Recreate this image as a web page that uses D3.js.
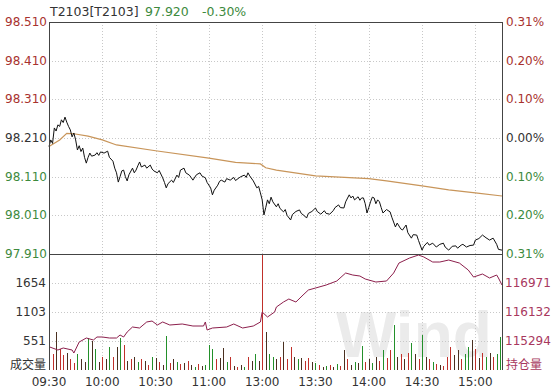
<!DOCTYPE html>
<html>
<head>
<meta charset="utf-8">
<script src="https://cdn.jsdelivr.net/npm/d3@7"></script>
<style>
  html, body { margin: 0; padding: 0; background: #fff; }
  svg { display: block; font-family: "DejaVu Sans", Verdana, sans-serif; }
</style>
</head>
<body>
<svg id="chart" width="552" height="390"></svg>
<script>
// --- data ---
const title = 'T2103[T2103]'
const lastPrice = '97.920'
const lastChange = '-0.30%'
const watermark = 'Wind'

const priceTicks = [98.510, 98.410, 98.310, 98.210, 98.110, 98.010, 97.910]
const pctLabels = ['0.31%', '0.20%', '0.10%', '0.00%', '0.10%', '0.20%', '0.31%']
const volTicks = [551, 1103, 1654]
const volDomain = [0, 2205]
const oiTicks = [115294, 116132, 116971]
const oiDomain = [114456, 117810]
const timeLabels = ['09:30', '10:00', '10:30', '11:00', '13:00', '13:30', '14:00', '14:30', '15:00']

// [time, price]
const priceSeries = [
  ['09:30', 98.188], ['09:31', 98.205], ['09:32', 98.196], ['09:33', 98.236], ['09:34', 98.228],
  ['09:35', 98.244], ['09:36', 98.240], ['09:37', 98.257], ['09:38', 98.250], ['09:39', 98.264],
  ['09:40', 98.251], ['09:41', 98.240], ['09:42', 98.231], ['09:43', 98.213], ['09:44', 98.223],
  ['09:45', 98.205], ['09:46', 98.179], ['09:47', 98.190], ['09:48', 98.175], ['09:49', 98.184],
  ['09:50', 98.160], ['09:51', 98.145], ['09:52', 98.160], ['09:53', 98.171], ['09:54', 98.163],
  ['09:56', 98.166], ['09:57', 98.172], ['09:58', 98.165], ['09:59', 98.174], ['10:01', 98.171],
  ['10:03', 98.176], ['10:04', 98.160], ['10:06', 98.150], ['10:07', 98.132], ['10:08', 98.120],
  ['10:09', 98.096], ['10:10', 98.110], ['10:11', 98.125], ['10:12', 98.127], ['10:13', 98.110],
  ['10:14', 98.099], ['10:15', 98.115], ['10:17', 98.132], ['10:18', 98.120], ['10:19', 98.127],
  ['10:20', 98.138], ['10:21', 98.148], ['10:22', 98.135], ['10:24', 98.140], ['10:25', 98.132],
  ['10:27', 98.140], ['10:28', 98.130], ['10:29', 98.125], ['10:31', 98.120], ['10:32', 98.126],
  ['10:34', 98.107], ['10:35', 98.095], ['10:36', 98.081], ['10:37', 98.092], ['10:39', 98.101],
  ['10:40', 98.095], ['10:42', 98.114], ['10:43', 98.108], ['10:44', 98.127], ['10:46', 98.132],
  ['10:47', 98.120], ['10:49', 98.114], ['10:50', 98.108], ['10:51', 98.101], ['10:53', 98.115],
  ['10:55', 98.120], ['10:56', 98.112], ['10:58', 98.107], ['10:59', 98.095], ['11:01', 98.081],
  ['11:02', 98.063], ['11:03', 98.075], ['11:05', 98.088], ['11:06', 98.098], ['11:07', 98.101],
  ['11:09', 98.096], ['11:10', 98.105], ['11:12', 98.101], ['11:14', 98.108], ['11:15', 98.100],
  ['11:17', 98.107], ['11:18', 98.110], ['11:20', 98.114], ['11:21', 98.108], ['11:22', 98.120],
  ['11:23', 98.112], ['11:25', 98.099], ['11:27', 98.081], ['11:28', 98.085], ['11:29', 98.068],
  ['11:30', 98.050], ['13:01', 98.011], ['13:02', 98.030], ['13:03', 98.050], ['13:04', 98.040],
  ['13:05', 98.057], ['13:06', 98.045], ['13:08', 98.032], ['13:09', 98.040], ['13:10', 98.028],
  ['13:12', 98.019], ['13:13', 98.025], ['13:14', 98.010], ['13:16', 97.998], ['13:17', 98.012],
  ['13:19', 98.020], ['13:21', 98.024], ['13:22', 98.015], ['13:24', 98.008], ['13:25', 98.003],
  ['13:26', 98.015], ['13:28', 98.020], ['13:30', 98.029], ['13:31', 98.020], ['13:33', 98.013],
  ['13:35', 98.022], ['13:36', 98.015], ['13:38', 98.013], ['13:40', 98.022], ['13:41', 98.030],
  ['13:43', 98.037], ['13:44', 98.030], ['13:46', 98.029], ['13:47', 98.045], ['13:49', 98.063],
  ['13:50', 98.055], ['13:51', 98.060], ['13:52', 98.050], ['13:54', 98.058], ['13:55', 98.049],
  ['13:56', 98.055], ['13:57', 98.055], ['13:58', 98.040], ['13:59', 98.016], ['14:00', 98.030],
  ['14:01', 98.045], ['14:02', 98.057], ['14:03', 98.055], ['14:04', 98.040], ['14:05', 98.050],
  ['14:06', 98.045], ['14:07', 98.030], ['14:08', 98.016], ['14:10', 98.025], ['14:12', 98.019],
  ['14:13', 98.005], ['14:15', 97.980], ['14:16', 97.990], ['14:18', 97.975], ['14:19', 97.972],
  ['14:21', 97.985], ['14:22', 97.965], ['14:24', 97.951], ['14:25', 97.960], ['14:27', 97.959],
  ['14:28', 97.945], ['14:30', 97.920], ['14:31', 97.930], ['14:33', 97.940], ['14:34', 97.933],
  ['14:36', 97.938], ['14:38', 97.928], ['14:40', 97.935], ['14:42', 97.938], ['14:43', 97.928],
  ['14:45', 97.920], ['14:47', 97.930], ['14:49', 97.931], ['14:50', 97.925], ['14:52', 97.933],
  ['14:53', 97.935], ['14:55', 97.928], ['14:57', 97.932], ['14:59', 97.933], ['15:00', 97.946],
  ['15:02', 97.950], ['15:04', 97.959], ['15:06', 97.952], ['15:08', 97.946], ['15:10', 97.951],
  ['15:12', 97.935], ['15:13', 97.922], ['15:15', 97.920]
]

// [time, average price]
const avgSeries = [
  ['09:30', 98.188], ['09:36', 98.205], ['09:40', 98.222], ['09:44', 98.221], ['09:52', 98.215],
  ['10:00', 98.205], ['10:08', 98.192], ['10:30', 98.177], ['11:00', 98.158], ['11:15', 98.147],
  ['11:29', 98.143], ['13:02', 98.133], ['13:08', 98.127], ['13:30', 98.112], ['14:00', 98.105],
  ['14:10', 98.099], ['14:30', 98.086], ['14:45', 98.076], ['15:00', 98.068], ['15:15', 98.060]
]

// [time, open interest]
const oiSeries = [
  ['09:30', 115129], ['09:35', 115034], ['09:38', 115092], ['09:43', 115034], ['09:44', 114947],
  ['09:47', 115265], ['09:51', 115381], ['09:55', 115323], ['09:57', 115410], ['10:00', 115410],
  ['10:04', 115381], ['10:08', 115381], ['10:10', 115468], ['10:12', 115410], ['10:14', 115554],
  ['10:17', 115699], ['10:21', 115670], ['10:25', 115844], ['10:28', 115872], ['10:31', 115757],
  ['10:34', 115844], ['10:38', 115757], ['10:45', 115786], ['10:51', 115728], ['10:57', 115728],
  ['10:58', 115844], ['10:59', 115612], ['11:02', 115670], ['11:10', 115699], ['11:14', 115786],
  ['11:19', 115670], ['11:25', 115728], ['11:29', 115844], ['13:00', 116133], ['13:03', 115988],
  ['13:07', 116133], ['13:08', 116277], ['13:12', 116422], ['13:15', 116508], ['13:19', 116422],
  ['13:23', 116624], ['13:26', 116769], ['13:30', 116826], ['13:36', 116913], ['13:42', 117029],
  ['13:47', 117260], ['13:51', 117202], ['13:55', 117173], ['13:58', 117087], ['14:04', 117000],
  ['14:10', 117029], ['14:14', 117260], ['14:17', 117549], ['14:23', 117694], ['14:28', 117780],
  ['14:31', 117723], ['14:36', 117578], ['14:40', 117578], ['14:45', 117636], ['14:51', 117549],
  ['14:56', 117347], ['14:59', 117144], ['15:04', 117231], ['15:08', 117116], ['15:12', 117202],
  ['15:13', 117116], ['15:15', 116913]
]

// volume per 2-minute slot from the open, with bar colour code (r up, g down, k flat)
const volumes = [
  1100, 300, 720, 400, 280, 330, 200, 130, 300, 200, 150, 600, 560, 400, 150, 250,
  200, 430, 250, 430, 600, 470, 180, 200, 250, 150, 200, 180, 100, 250, 230, 150,
  100, 650, 130, 200, 150, 120, 140, 170, 90, 60, 120, 80, 100, 480, 400, 200,
  230, 410, 150, 250, 80, 60, 100, 50, 250, 180, 300, 180, 2205, 720, 300, 250,
  200, 250, 530, 200, 440, 250, 200, 220, 180, 220, 150, 130, 90, 60, 80, 100,
  60, 120, 80, 380, 200, 100, 150, 130, 450, 150, 200, 130, 250, 180, 380, 220,
  380, 850, 250, 300, 200, 330, 520, 300, 200, 660, 250, 200, 150, 120, 100, 80,
  250, 430, 280, 380, 200, 300, 430, 570, 400, 230, 320, 250, 330, 250, 300, 630
]
const volColors =
  'grkrrkrrgkkgkgkr' +
  'kgrkgrkrkgrkrgkr' +
  'kgrkgrkrkgrkgggr' +
  'kkgrkrkgrkgkrkgg' +
  'krkrrkgkrrkgrkgr' +
  'kgrkrkgkgrkgkrgr' +
  'rgkrkrgkrgkrgrkr' +
  'rrkkrggkrkrgkrgg'
const volSlotMinutes = 2

// --- layout ---
const padL = 49, padR = 502, padT = 22, padM = 254, padB = 370
const svg = d3.select('#chart')

function minuteIndex(t) {
  const [h, m] = t.split(':').map(Number)
  const mins = h * 60 + m
  return mins <= 690 ? mins - 570 : 120 + mins - 780
}

const x = d3.scaleLinear().domain([0, 255]).range([padL, padR])
const yPrice = d3.scaleLinear().domain([priceTicks[6], priceTicks[0]]).range([padM, padT])
const yVol = d3.scaleLinear().domain(volDomain).range([padB, padM])
const yOi = d3.scaleLinear().domain(oiDomain).range([padB, padM])

const red = '#a8322e', green = '#3d8a3d', gray = '#333'
const labelColor = i => (i < 3 ? red : i === 3 ? gray : green)

// watermark, kept inside the plot so it stays clear of the labels
svg.append('text')
  .attr('x', 336).attr('y', 357)
  .attr('font-family', 'Liberation Sans, Arial, sans-serif')
  .attr('font-weight', 'bold').attr('font-size', 64)
  .attr('fill', '#ebebeb')
  .text(watermark)

// grid
const grid = svg.append('g').attr('stroke', '#c8c8c8').attr('stroke-dasharray', '1,2').attr('shape-rendering', 'crispEdges')
priceTicks.slice(1, 6).forEach(p => {
  grid.append('line').attr('x1', padL).attr('x2', padR).attr('y1', Math.round(yPrice(p)) + 0.5).attr('y2', Math.round(yPrice(p)) + 0.5)
})
volTicks.forEach(v => {
  grid.append('line').attr('x1', padL).attr('x2', padR).attr('y1', Math.round(yVol(v)) + 0.5).attr('y2', Math.round(yVol(v)) + 0.5)
})
timeLabels.slice(1).forEach(t => {
  const xx = Math.round(x(minuteIndex(t))) + 0.5
  grid.append('line').attr('x1', xx).attr('x2', xx).attr('y1', padT).attr('y2', padB)
})

// volume bars
const colorMap = { r: '#c0302a', g: '#23902a', k: '#4a3020' }
svg.append('g').attr('shape-rendering', 'crispEdges')
  .selectAll('rect').data(volumes).join('rect')
  .attr('x', (d, i) => Math.round(x(i * volSlotMinutes)))
  .attr('width', 1)
  .attr('y', d => yVol(d))
  .attr('height', d => padB - yVol(d))
  .attr('fill', (d, i) => colorMap[volColors[i]])

// lines
const line = d3.line().x(d => x(minuteIndex(d[0])))
svg.append('path').datum(avgSeries)
  .attr('d', line.y(d => yPrice(d[1])))
  .attr('fill', 'none').attr('stroke', '#c8955a').attr('stroke-width', 1.2)
svg.append('path').datum(priceSeries)
  .attr('d', line.y(d => yPrice(d[1])))
  .attr('fill', 'none').attr('stroke', '#111').attr('stroke-width', 1)
svg.append('path').datum(oiSeries)
  .attr('d', line.y(d => yOi(d[1])))
  .attr('fill', 'none').attr('stroke', '#8c1f4c').attr('stroke-width', 1)

// frame
const frame = svg.append('g').attr('stroke', '#444').attr('shape-rendering', 'crispEdges')
frame.append('line').attr('x1', padL + 0.5).attr('x2', padL + 0.5).attr('y1', padT).attr('y2', padB)
frame.append('line').attr('x1', padR + 0.5).attr('x2', padR + 0.5).attr('y1', padT).attr('y2', padB)
frame.append('line').attr('x1', padL).attr('x2', padR + 1).attr('y1', padT + 0.5).attr('y2', padT + 0.5)
frame.append('line').attr('x1', padL).attr('x2', padR + 1).attr('y1', padM + 0.5).attr('y2', padM + 0.5)

// axis labels
const lab = svg.append('g').attr('font-size', 12).attr('dominant-baseline', 'central')
priceTicks.forEach((p, i) => {
  lab.append('text').attr('x', padL - 2).attr('y', yPrice(p)).attr('text-anchor', 'end')
    .attr('fill', labelColor(i)).text(p.toFixed(3))
  lab.append('text').attr('x', padR + 4).attr('y', yPrice(p))
    .attr('fill', labelColor(i)).text(pctLabels[i])
})
volTicks.forEach(v => {
  lab.append('text').attr('x', padL - 3).attr('y', yVol(v)).attr('text-anchor', 'end').attr('fill', gray).text(v)
})
oiTicks.forEach(v => {
  lab.append('text').attr('x', padR + 3).attr('y', yOi(v)).attr('fill', '#a8385e').text(v)
})
lab.append('text').attr('x', padL - 3).attr('y', 363).attr('text-anchor', 'end').attr('fill', gray)
  .attr('font-family', 'Noto Sans CJK SC').text('成交量')
lab.append('text').attr('x', padR + 4).attr('y', 363).attr('fill', '#a8385e')
  .attr('font-family', 'Noto Sans CJK SC').text('持仓量')
timeLabels.forEach(t => {
  lab.append('text').attr('x', x(minuteIndex(t))).attr('y', 382).attr('text-anchor', 'middle')
    .attr('fill', gray).text(t)
})

// header
const head = svg.append('g').attr('font-size', 12.5)
head.append('text').attr('x', 50).attr('y', 16).attr('fill', gray).text(title)
head.append('text').attr('x', 145).attr('y', 16).attr('fill', green).text(lastPrice)
head.append('text').attr('x', 202).attr('y', 16).attr('fill', green).text(lastChange)
</script>
</body>
</html>
